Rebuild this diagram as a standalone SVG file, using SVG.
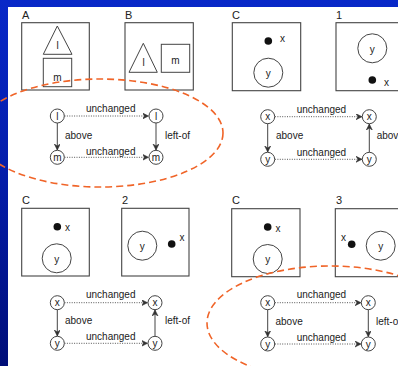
<svg xmlns="http://www.w3.org/2000/svg" width="398" height="366" viewBox="0 0 398 366">
<defs>
<linearGradient id="bg" x1="0" y1="0" x2="0" y2="1">
<stop offset="0" stop-color="#0828c8"/>
<stop offset="0.5" stop-color="#041ca8"/>
<stop offset="1" stop-color="#000e78"/>
</linearGradient>
<marker id="arr" markerUnits="userSpaceOnUse" markerWidth="8" markerHeight="8" refX="6" refY="3" orient="auto">
<path d="M0,0 L6,3 L0,6 L2,3 Z" fill="#333" stroke="#333" stroke-width="0.6"/>
</marker>
<style>
.box{fill:none;stroke:#444;stroke-width:1.1}
.shape{fill:none;stroke:#444;stroke-width:1}
.node{fill:#fff;stroke:#444;stroke-width:1}
.dot{fill:#111}
.solid{fill:none;stroke:#444;stroke-width:1;marker-end:url(#arr)}
.dotted{fill:none;stroke:#555;stroke-width:1;stroke-dasharray:1 1.4;marker-end:url(#arr)}
.lbl{font-family:"Liberation Sans",Arial,sans-serif;font-size:10px;fill:#222}
.ttl{font-family:"Liberation Sans",Arial,sans-serif;font-size:11px;fill:#222}
.in{font-family:"Liberation Sans",Arial,sans-serif;font-size:10px;fill:#222;text-anchor:middle}
.ell{fill:none;stroke:#f06428;stroke-width:1.6;stroke-dasharray:7 4}
</style>
</defs>
<rect x="0" y="0" width="398" height="366" fill="url(#bg)"/>
<rect x="8" y="7" width="390" height="359" fill="#fff"/>

<!-- Panel A/B -->
<g id="boxA">
<text class="ttl" x="22" y="18.5">A</text>
<rect class="box" x="21.7" y="22.7" width="67.6" height="67.3"/>
<polygon class="shape" points="57.3,26 43.3,54.3 72,54.3"/>
<text class="in" x="57.5" y="49">l</text>
<rect class="shape" x="43.3" y="58.3" width="28.4" height="28.4"/>
<text class="in" x="57.5" y="81">m</text>
</g>
<g id="boxB">
<text class="ttl" x="125" y="18.5">B</text>
<rect class="box" x="125" y="22.7" width="68.3" height="67.3"/>
<polygon class="shape" points="143.3,43.3 129,72.3 157.3,72.3"/>
<text class="in" x="143.5" y="66">l</text>
<rect class="shape" x="161.3" y="44.3" width="28.4" height="28"/>
<text class="in" x="175.5" y="64">m</text>
</g>
<g id="g1-l1"><circle class="node" cx="57.3" cy="116" r="7"/><text class="in" x="57.3" y="119.5">l</text></g>
<g id="g1-m1"><circle class="node" cx="57.3" cy="157.3" r="7"/><text class="in" x="57.3" y="160.8">m</text></g>
<g id="g1-l2"><circle class="node" cx="156" cy="116" r="7"/><text class="in" x="156" y="119.5">l</text></g>
<g id="g1-m2"><circle class="node" cx="156" cy="157.3" r="7"/><text class="in" x="156" y="160.8">m</text></g>

<!-- Panel C/1 -->
<g id="boxC1">
<text class="ttl" x="232" y="18.5">C</text>
<rect class="box" x="232.3" y="22.7" width="68.4" height="68"/>
<circle class="dot" cx="268.3" cy="41" r="3.8"/>
<text class="lbl" x="280" y="42">x</text>
<circle class="shape" cx="268.3" cy="72.7" r="14.5"/>
<text class="in" x="268.3" y="77">y</text>
</g>
<g id="box1">
<text class="ttl" x="336" y="18.5">1</text>
<rect class="box" x="336" y="22.7" width="80" height="68"/>
<circle class="shape" cx="372.3" cy="48.3" r="14.5"/>
<text class="in" x="372.3" y="52.5">y</text>
<circle class="dot" cx="372.3" cy="80" r="3.8"/>
<text class="lbl" x="384" y="86">x</text>
</g>
<g id="g2-x1"><circle class="node" cx="267.7" cy="116.7" r="7"/><text class="in" x="267.7" y="120">x</text></g>
<g id="g2-y1"><circle class="node" cx="267.7" cy="159.3" r="7"/><text class="in" x="267.7" y="162.8">y</text></g>
<g id="g2-x2"><circle class="node" cx="369.3" cy="116.7" r="7"/><text class="in" x="369.3" y="120">x</text></g>
<g id="g2-y2"><circle class="node" cx="369.3" cy="159.3" r="7"/><text class="in" x="369.3" y="162.8">y</text></g>

<!-- Panel C/2 -->
<g id="boxC2">
<text class="ttl" x="22" y="203.5">C</text>
<rect class="box" x="21.7" y="208.3" width="67.6" height="67.7"/>
<circle class="dot" cx="57.3" cy="226.7" r="3.8"/>
<text class="lbl" x="65" y="231">x</text>
<circle class="shape" cx="56.7" cy="258.3" r="14.5"/>
<text class="in" x="56.7" y="262.5">y</text>
</g>
<g id="box2">
<text class="ttl" x="122" y="203.5">2</text>
<rect class="box" x="121.7" y="208.3" width="67.3" height="67.7"/>
<circle class="shape" cx="142.3" cy="245.7" r="14.5"/>
<text class="in" x="142.3" y="250">y</text>
<circle class="dot" cx="171.7" cy="244" r="3.8"/>
<text class="lbl" x="179.5" y="240.5">x</text>
</g>
<g id="g3-x1"><circle class="node" cx="57.3" cy="302.7" r="7"/><text class="in" x="57.3" y="306">x</text></g>
<g id="g3-y1"><circle class="node" cx="57.3" cy="343.3" r="7"/><text class="in" x="57.3" y="346.8">y</text></g>
<g id="g3-x2"><circle class="node" cx="155" cy="302.7" r="7"/><text class="in" x="155" y="306">x</text></g>
<g id="g3-y2"><circle class="node" cx="155" cy="343.3" r="7"/><text class="in" x="155" y="346.8">y</text></g>

<!-- Panel C/3 -->
<g id="boxC3">
<text class="ttl" x="232" y="204">C</text>
<rect class="box" x="231.7" y="208.7" width="68.3" height="68"/>
<circle class="dot" cx="267.7" cy="227" r="3.8"/>
<text class="lbl" x="275.5" y="232">x</text>
<circle class="shape" cx="267.7" cy="259" r="14.5"/>
<text class="in" x="267.7" y="263.3">y</text>
</g>
<g id="box3">
<text class="ttl" x="336" y="204">3</text>
<rect class="box" x="335.3" y="208.7" width="80" height="68"/>
<circle class="dot" cx="351.7" cy="244.3" r="3.8"/>
<text class="lbl" x="341" y="241">x</text>
<circle class="shape" cx="380.7" cy="245.7" r="14.5"/>
<text class="in" x="380.7" y="250">y</text>
</g>
<g id="g4-x1"><circle class="node" cx="267.7" cy="302.7" r="7"/><text class="in" x="267.7" y="306">x</text></g>
<g id="g4-y1"><circle class="node" cx="267.7" cy="344" r="7"/><text class="in" x="267.7" y="347.5">y</text></g>
<g id="g4-x2"><circle class="node" cx="368.3" cy="302.7" r="7"/><text class="in" x="368.3" y="306">x</text></g>
<g id="g4-y2"><circle class="node" cx="368.3" cy="344" r="7"/><text class="in" x="368.3" y="347.5">y</text></g>

<g id="connectors">
<!-- graph 1 -->
<line class="dotted" x1="64.5" y1="116" x2="148.5" y2="116"/>
<line class="dotted" x1="64.5" y1="157.3" x2="148.5" y2="157.3"/>
<line class="solid" x1="57.3" y1="123" x2="57.3" y2="150"/>
<line class="solid" x1="156" y1="123" x2="156" y2="150"/>
<!-- graph 2 -->
<line class="dotted" x1="275" y1="116.7" x2="362" y2="116.7"/>
<line class="dotted" x1="275" y1="159.3" x2="362" y2="159.3"/>
<line class="solid" x1="267.7" y1="123.7" x2="267.7" y2="152"/>
<line class="solid" x1="369.3" y1="152.3" x2="369.3" y2="124"/>
<!-- graph 3 -->
<line class="dotted" x1="64.5" y1="302.7" x2="147.5" y2="302.7"/>
<line class="dotted" x1="64.5" y1="343.3" x2="147.5" y2="343.3"/>
<line class="solid" x1="57.3" y1="309.7" x2="57.3" y2="336"/>
<line class="solid" x1="155" y1="336.3" x2="155" y2="310"/>
<!-- graph 4 -->
<line class="dotted" x1="275" y1="302.7" x2="361" y2="302.7"/>
<line class="dotted" x1="275" y1="344" x2="361" y2="344"/>
<line class="solid" x1="267.7" y1="309.7" x2="267.7" y2="336.7"/>
<line class="solid" x1="368.3" y1="309.7" x2="368.3" y2="336.7"/>
</g>

<g id="edge-labels">
<text class="lbl" x="86" y="112">unchanged</text>
<text class="lbl" x="86" y="155">unchanged</text>
<text class="lbl" x="65" y="139">above</text>
<text class="lbl" x="165" y="139">left-of</text>
<text class="lbl" x="296.7" y="112.7">unchanged</text>
<text class="lbl" x="296.7" y="155.7">unchanged</text>
<text class="lbl" x="276" y="139.3">above</text>
<text class="lbl" x="376.7" y="139.3">above</text>
<text class="lbl" x="86" y="297.7">unchanged</text>
<text class="lbl" x="86" y="340">unchanged</text>
<text class="lbl" x="65" y="324.3">above</text>
<text class="lbl" x="165" y="324.3">left-of</text>
<text class="lbl" x="296.7" y="298.3">unchanged</text>
<text class="lbl" x="296.7" y="340.7">unchanged</text>
<text class="lbl" x="275.5" y="325">above</text>
<text class="lbl" x="376" y="325">left-of</text>
</g>

<g id="highlights">
<ellipse class="ell" cx="100" cy="133" rx="123" ry="54"/>
<ellipse class="ell" cx="330" cy="323" rx="123" ry="57"/>
</g>
</svg>
